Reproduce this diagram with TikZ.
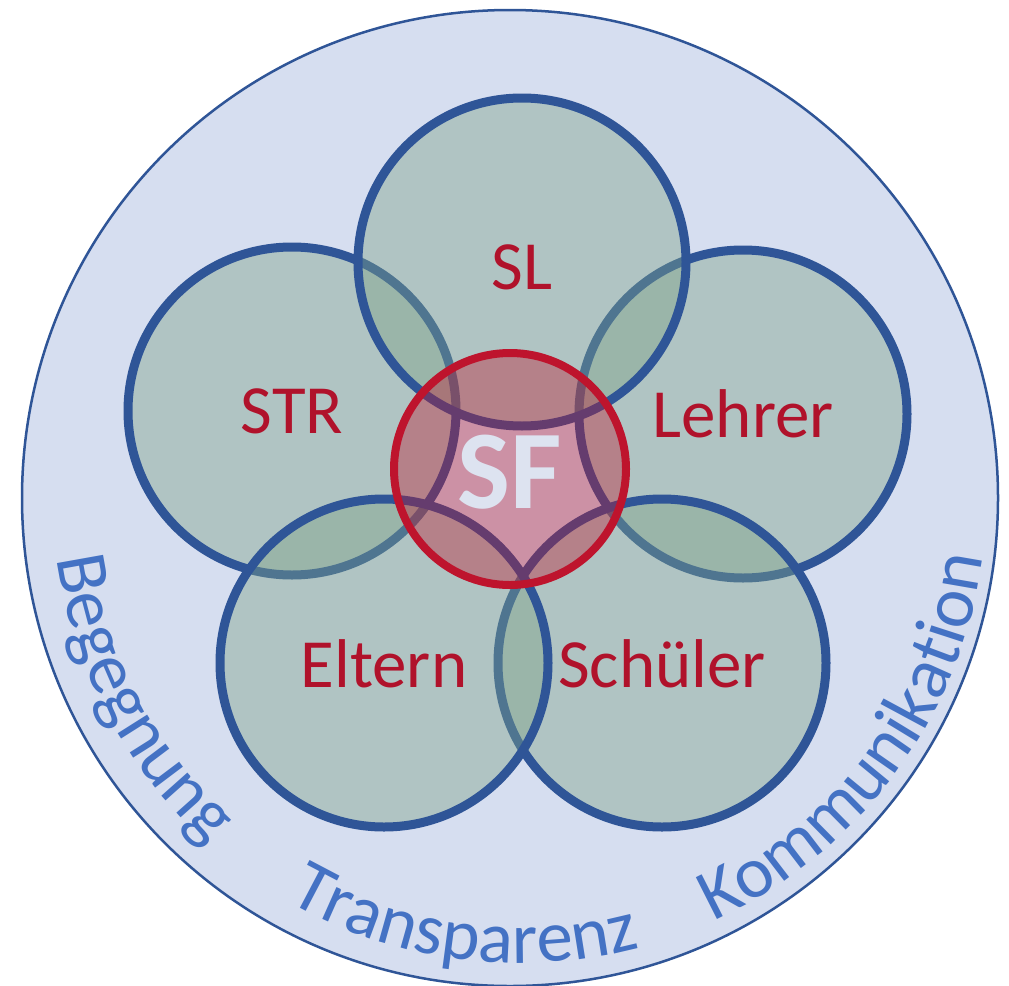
\documentclass[tikz,border=0pt]{standalone}
\usepackage{fontspec}
\setmainfont{Carlito}
\usetikzlibrary{decorations.text}
\definecolor{bgblue}{HTML}{D6DEF0}
\definecolor{lineblue}{HTML}{2F5597}
\definecolor{petalgreen}{HTML}{7CA287}
\definecolor{sfred}{HTML}{BE142D}
\definecolor{lblred}{HTML}{B0122B}
\definecolor{txtblue}{HTML}{4472C4}
\definecolor{sfwhite}{HTML}{DDE3F0}
\newcommand\mylblfont{\fontsize{69}{80}\selectfont}
\newcommand\myarcfont{\fontsize{73}{84}\selectfont}
\begin{document}
\begin{tikzpicture}[x=1pt,y=1pt,
  outerring/.style={circle, draw=lineblue, line width=2.5pt, fill=bgblue, minimum size=976pt, inner sep=0pt},
  petal/.style={circle, draw=lineblue, line width=9pt, fill=petalgreen, fill opacity=0.42, draw opacity=1, minimum size=328pt, inner sep=0pt},
  sfcircle/.style={circle, draw=sfred, line width=8pt, fill=sfred, fill opacity=0.38, draw opacity=1, minimum size=232pt, inner sep=0pt},
  lbl/.style={text=lblred, font=\mylblfont, anchor=base, inner sep=0pt},
  sflbl/.style={text=sfwhite, font=\fontsize{112}{124}\selectfont\bfseries, anchor=base, inner sep=0pt},
  arctext/.style={decorate, decoration={text along path, text align=center, text color=txtblue, text={|\myarcfont|#1}}}
]
\useasboundingbox (0,0) rectangle (1009,-985);
\node[outerring] (O) at (510,-498) {};
\coordinate (T) at (520,-496);
\node[petal] (str) at (292,-411) {};
\node[petal] (lehrer) at (743,-414) {};
\node[petal] (schueler) at (662,-663) {};
\node[petal] (eltern) at (384,-663) {};
\node[petal] (sl) at (522,-262) {};
\node[sfcircle] (sf) at (510,-469) {};
\node[lbl] (sltxt) at ([yshift=-27pt]sl.center) {SL};
\node[lbl] (strtxt) at ([yshift=-22pt]str.center) {STR};
\node[lbl] (lehrertxt) at ([yshift=-23pt]lehrer.center) {Lehrer};
\node[lbl] (elterntxt) at ([yshift=-24pt]eltern.center) {Eltern};
\node[lbl] (schuelertxt) at ([yshift=-24pt]schueler.center) {Schüler};
\node[sflbl] (sftxt) at ([yshift=-39pt]sf.center) {SF};
\path[arctext=Begegnung] ([shift={(172.5:467)}]T) arc[start angle=172.5, end angle=243.5, radius=467];
\path[arctext=Transparenz] ([shift={(227.5:467)}]T) arc[start angle=227.5, end angle=297.5, radius=467];
\path[arctext=Kommunikation] ([shift={(288.5:467)}]T) arc[start angle=288.5, end angle=358.5, radius=467];
\end{tikzpicture}
\end{document}
